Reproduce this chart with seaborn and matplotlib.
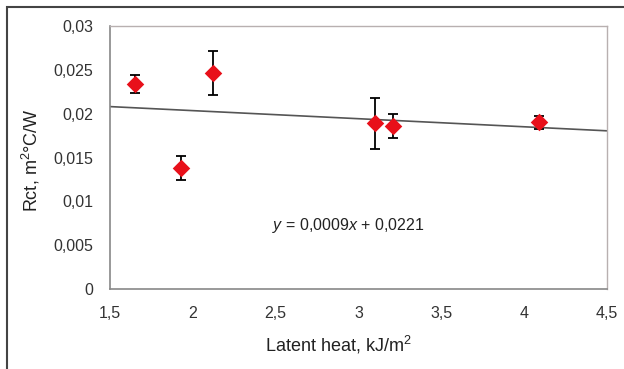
import numpy as np
import pandas as pd
import matplotlib
matplotlib.use("Agg")
import matplotlib.pyplot as plt
import seaborn as sns
from matplotlib.patches import Rectangle
from matplotlib.ticker import FuncFormatter

# data
latent_heat = [1.65, 1.93, 2.12, 3.10, 3.21, 4.09]
rct = [0.0234, 0.0138, 0.0246, 0.0189, 0.0186, 0.0190]
rct_err = [0.0010, 0.0014, 0.0025, 0.0029, 0.0014, 0.0007]
x_ticks = [1.5, 2, 2.5, 3, 3.5, 4, 4.5]
y_ticks = [0, 0.005, 0.01, 0.015, 0.02, 0.025, 0.03]
equation_text = "$\\it{y}$ = 0,0009$\\it{x}$ + 0,0221"

df = pd.DataFrame({"x": latent_heat, "y": rct, "err": rct_err})

sns.set_style("white")
plt.rcParams["font.family"] = ["Liberation Sans", "DejaVu Sans"]
plt.rcParams["mathtext.fontset"] = "custom"
plt.rcParams["mathtext.it"] = "Liberation Sans:italic"
plt.rcParams["mathtext.rm"] = "Liberation Sans"

W, H = 624, 369
fig = plt.figure(figsize=(W / 100, H / 100), dpi=100)
fig.patch.set_facecolor("white")

# outer frame (cut at right/bottom like the reference)
fig.patches.append(Rectangle((7 / W, -0.05), 1.2, (H - 7) / H + 0.05,
                             transform=fig.transFigure, fill=False,
                             edgecolor="#444444", linewidth=1.5))

ax = fig.add_axes([110 / W, (H - 289) / H, 497 / W, 263 / H])

ax.set_xlim(1.5, 4.5)
ax.set_ylim(0, 0.03)

# trend line from least squares fit
slope, intercept = np.polyfit(df["x"], df["y"], 1)
xs = np.array([1.5, 4.5])
ax.plot(xs, slope * xs + intercept, color="#555555", lw=1.2, zorder=2)

ax.errorbar(df["x"], df["y"], yerr=df["err"], fmt="none", ecolor="black",
            elinewidth=1.3, capsize=3.4, capthick=1.3, zorder=3)
sns.scatterplot(data=df, x="x", y="y", marker="D", s=80, color="#e8101a",
                edgecolor="#e8101a", linewidth=0, ax=ax, zorder=4)

ax.set_xticks(x_ticks)
ax.set_yticks(y_ticks)
fmt = FuncFormatter(lambda v, p: ("%g" % v).replace(".", ","))
ax.xaxis.set_major_formatter(fmt)
ax.yaxis.set_major_formatter(fmt)
ax.tick_params(axis="both", which="major", direction="out", length=5,
               width=1, color="#888888", labelsize=11.5, labelcolor="#333333")
ax.tick_params(axis="x", pad=7)
ax.tick_params(axis="y", pad=7)

for side in ["top", "right"]:
    ax.spines[side].set_color("#b8b0b0")
    ax.spines[side].set_linewidth(1.0)
for side in ["left", "bottom"]:
    ax.spines[side].set_color("#888888")
    ax.spines[side].set_linewidth(1.2)

ax.set_xlabel("Latent heat, kJ/m$^2$", fontsize=13, color="#222222")
ax.xaxis.set_label_coords((338 - 110) / 497, -(345 - 289) / 263)
ax.xaxis.label.set_va("center")
ax.set_ylabel("Rct, m$^2$°C/W", fontsize=13, color="#222222")
ax.yaxis.set_label_coords(-(110 - 31) / 497, (289 - 160) / 263)
ax.yaxis.label.set_va("center")

ax.text(2.478, 0.0073, equation_text, fontsize=11.5, color="#222222",
        ha="left", va="center")

fig.savefig("out.png", dpi=100, facecolor="white")
